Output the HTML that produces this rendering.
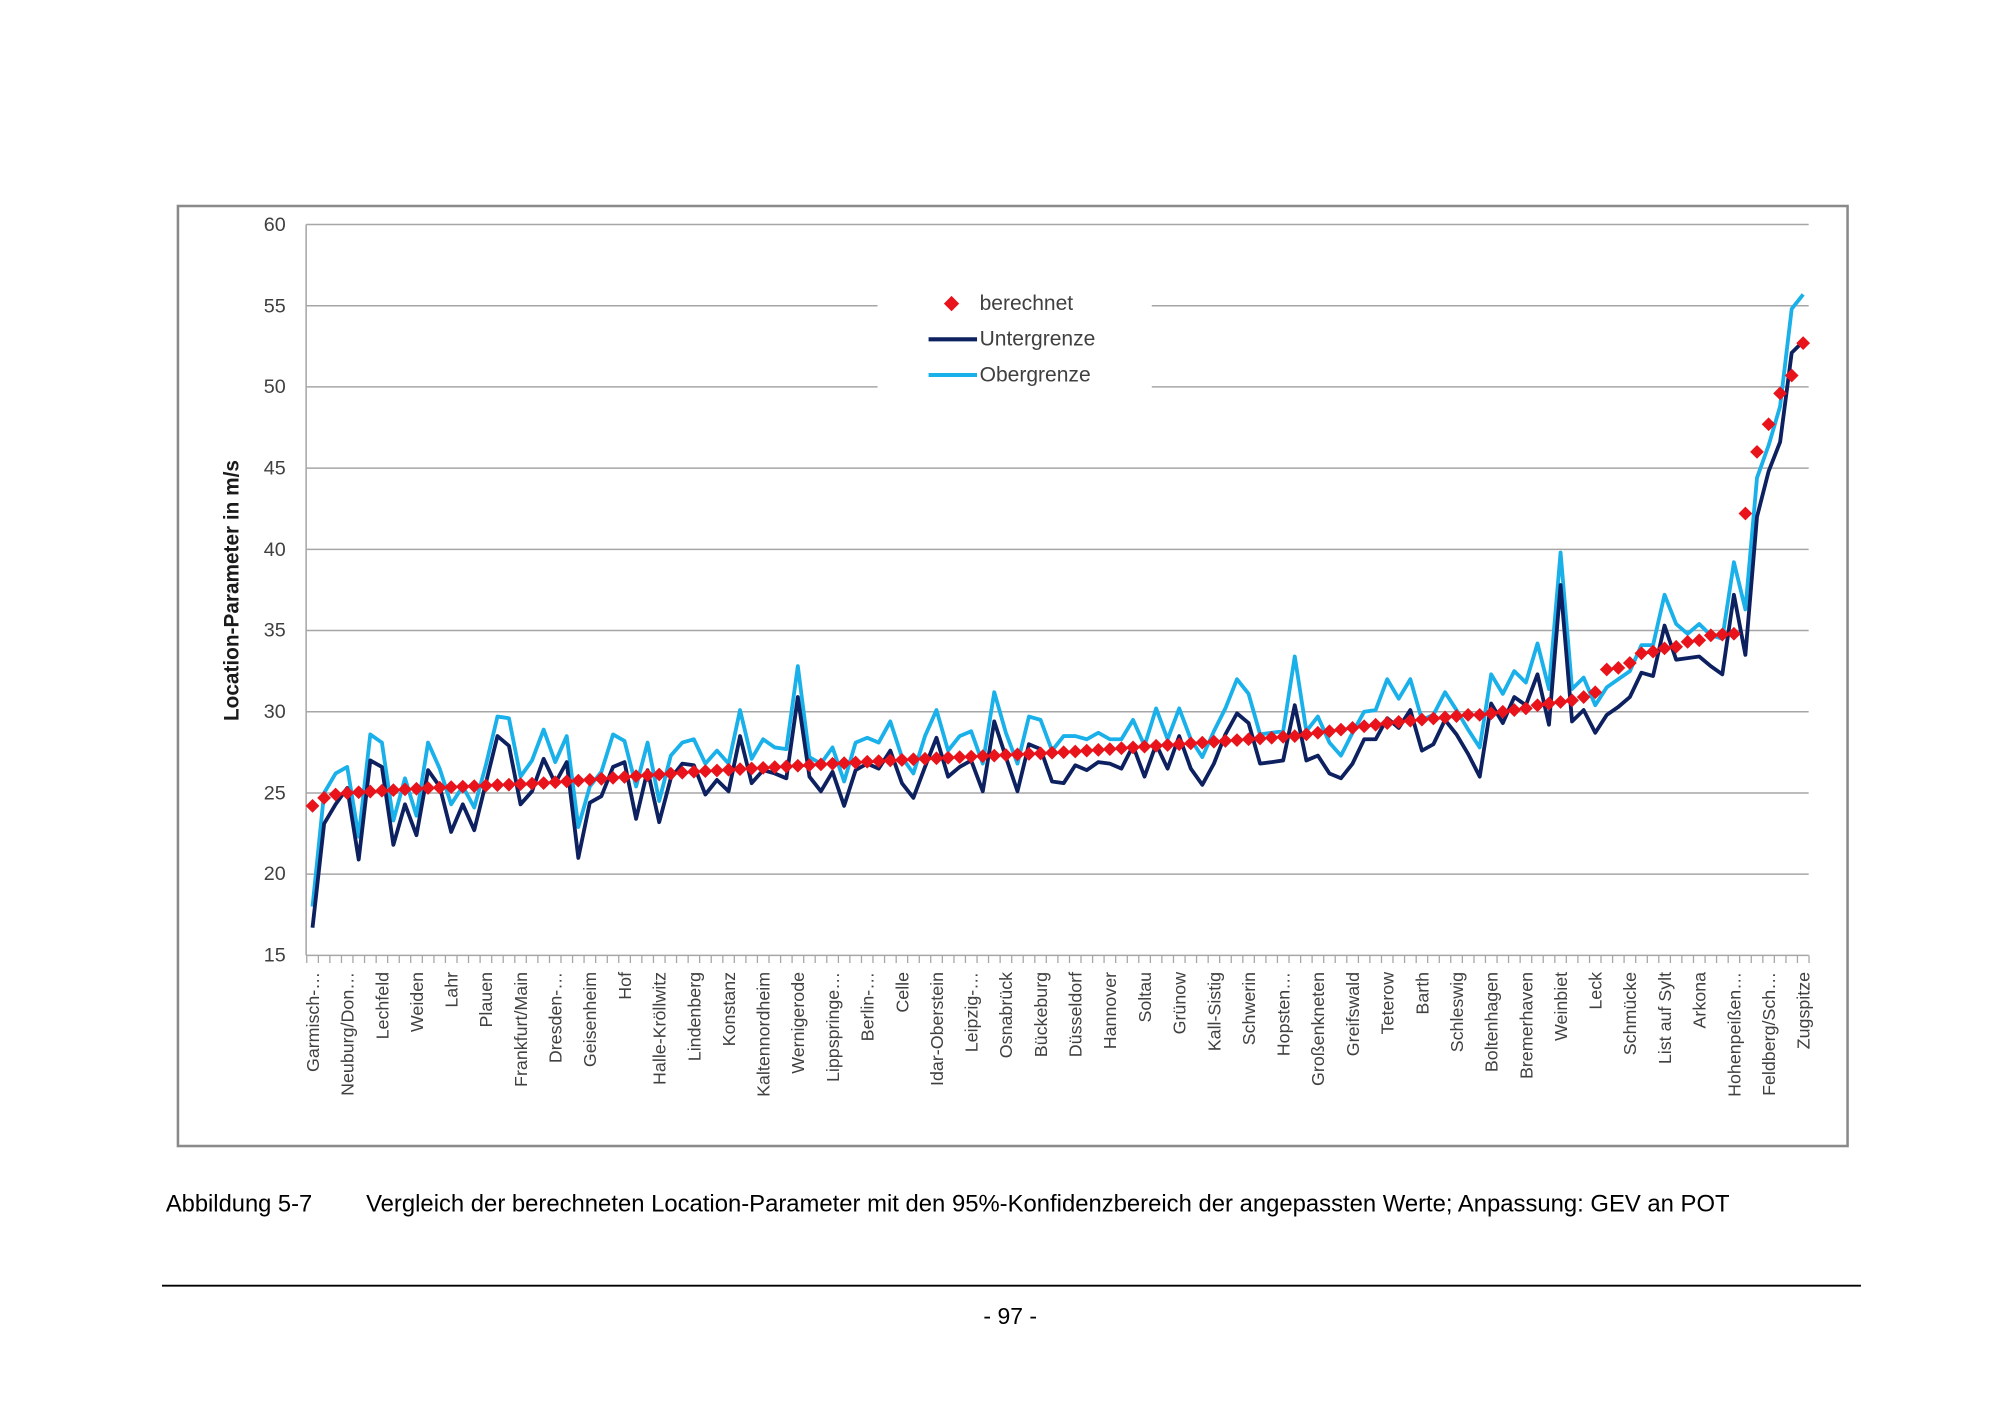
<!DOCTYPE html>
<html><head><meta charset="utf-8"><style>
html,body{margin:0;padding:0;background:#fff;}
svg{display:block;}
text{font-family:"Liberation Sans",sans-serif;}
</style></head><body>
<svg id="s" width="2000" height="1414" viewBox="0 0 1568 1108.6" xmlns="http://www.w3.org/2000/svg">
<rect x="0" y="0" width="1568" height="1109" fill="#fff"/>
<rect x="139.5" y="161.5" width="1309" height="737" fill="#fff" stroke="#8a8a8a" stroke-width="2"/>
<g id="grid" stroke="#a6a6a6" stroke-width="1.2">
<line x1="240" y1="176" x2="1418" y2="176"/>
<line x1="240" y1="239.7" x2="1418" y2="239.7"/>
<line x1="240" y1="303.3" x2="1418" y2="303.3"/>
<line x1="240" y1="367" x2="1418" y2="367"/>
<line x1="240" y1="430.7" x2="1418" y2="430.7"/>
<line x1="240" y1="494.3" x2="1418" y2="494.3"/>
<line x1="240" y1="558" x2="1418" y2="558"/>
<line x1="240" y1="621.7" x2="1418" y2="621.7"/>
<line x1="240" y1="685.3" x2="1418" y2="685.3"/>
<line x1="240" y1="749" x2="1418" y2="749"/>
<line x1="240" y1="176" x2="240" y2="749"/>
</g>
<g id="ticks" stroke="#a6a6a6" stroke-width="1"></g>
<g font-size="15.5" fill="#404040" text-anchor="end">
<text x="224" y="181">60</text><text x="224" y="245">55</text><text x="224" y="308">50</text>
<text x="224" y="372">45</text><text x="224" y="436">40</text><text x="224" y="499">35</text>
<text x="224" y="563">30</text><text x="224" y="627">25</text><text x="224" y="690">20</text>
<text x="224" y="754">15</text>
</g>
<text transform="translate(187,463) rotate(-90)" text-anchor="middle" font-size="16.3" font-weight="bold" fill="#1a1a1a">Location-Parameter in m/s</text>
<g id="series"></g>
<rect x="688" y="226" width="215" height="80" fill="#fff"/>
<path d="M746 232 L752 238 L746 244 L740 238Z" fill="#e8131b"/>
<text x="768" y="243" font-size="16.5" fill="#404040">berechnet</text>
<line x1="728" y1="266" x2="766" y2="266" stroke="#0d2060" stroke-width="3.2"/>
<text x="768" y="271" font-size="16.5" fill="#404040">Untergrenze</text>
<line x1="728" y1="294" x2="766" y2="294" stroke="#1ab0ea" stroke-width="3.2"/>
<text x="768" y="299" font-size="16.5" fill="#404040">Obergrenze</text>
<g font-size="14" fill="#404040" text-anchor="end">
<text transform="translate(250,762) rotate(-90)">Garmisch-…</text>
<text transform="translate(277.2,762) rotate(-90)">Neuburg/Don…</text>
<text transform="translate(304.4,762) rotate(-90)">Lechfeld</text>
<text transform="translate(331.5,762) rotate(-90)">Weiden</text>
<text transform="translate(358.7,762) rotate(-90)">Lahr</text>
<text transform="translate(385.9,762) rotate(-90)">Plauen</text>
<text transform="translate(413.1,762) rotate(-90)">Frankfurt/Main</text>
<text transform="translate(440.3,762) rotate(-90)">Dresden-…</text>
<text transform="translate(467.4,762) rotate(-90)">Geisenheim</text>
<text transform="translate(494.6,762) rotate(-90)">Hof</text>
<text transform="translate(521.8,762) rotate(-90)">Halle-Kröllwitz</text>
<text transform="translate(549,762) rotate(-90)">Lindenberg</text>
<text transform="translate(576.2,762) rotate(-90)">Konstanz</text>
<text transform="translate(603.3,762) rotate(-90)">Kaltennordheim</text>
<text transform="translate(630.5,762) rotate(-90)">Wernigerode</text>
<text transform="translate(657.7,762) rotate(-90)">Lippspringe…</text>
<text transform="translate(684.9,762) rotate(-90)">Berlin-…</text>
<text transform="translate(712.1,762) rotate(-90)">Celle</text>
<text transform="translate(739.2,762) rotate(-90)">Idar-Oberstein</text>
<text transform="translate(766.4,762) rotate(-90)">Leipzig-…</text>
<text transform="translate(793.6,762) rotate(-90)">Osnabrück</text>
<text transform="translate(820.8,762) rotate(-90)">Bückeburg</text>
<text transform="translate(848,762) rotate(-90)">Düsseldorf</text>
<text transform="translate(875.1,762) rotate(-90)">Hannover</text>
<text transform="translate(902.3,762) rotate(-90)">Soltau</text>
<text transform="translate(929.5,762) rotate(-90)">Grünow</text>
<text transform="translate(956.7,762) rotate(-90)">Kall-Sistig</text>
<text transform="translate(983.9,762) rotate(-90)">Schwerin</text>
<text transform="translate(1011,762) rotate(-90)">Hopsten…</text>
<text transform="translate(1038.2,762) rotate(-90)">Großenkneten</text>
<text transform="translate(1065.4,762) rotate(-90)">Greifswald</text>
<text transform="translate(1092.6,762) rotate(-90)">Teterow</text>
<text transform="translate(1119.8,762) rotate(-90)">Barth</text>
<text transform="translate(1146.9,762) rotate(-90)">Schleswig</text>
<text transform="translate(1174.1,762) rotate(-90)">Boltenhagen</text>
<text transform="translate(1201.3,762) rotate(-90)">Bremerhaven</text>
<text transform="translate(1228.5,762) rotate(-90)">Weinbiet</text>
<text transform="translate(1255.7,762) rotate(-90)">Leck</text>
<text transform="translate(1282.8,762) rotate(-90)">Schmücke</text>
<text transform="translate(1310,762) rotate(-90)">List auf Sylt</text>
<text transform="translate(1337.2,762) rotate(-90)">Arkona</text>
<text transform="translate(1364.4,762) rotate(-90)">Hohenpeißen…</text>
<text transform="translate(1391.6,762) rotate(-90)">Feldberg/Sch…</text>
<text transform="translate(1418.7,762) rotate(-90)">Zugspitze</text>
</g>
<text x="130" y="950" font-size="18.6" fill="#000">Abbildung 5-7</text>
<text x="287" y="950" font-size="18.6" fill="#000" textLength="1069" lengthAdjust="spacingAndGlyphs">Vergleich der berechneten Location-Parameter mit den 95%-Konfidenzbereich der angepassten Werte; Anpassung: GEV an POT</text>
<line x1="127" y1="1008" x2="1459" y2="1008" stroke="#000" stroke-width="1.5"/>
<text x="792" y="1038" font-size="18" fill="#000" text-anchor="middle">- 97 -</text>
</svg>
<script>
var up=[18.0,25.0,26.2,26.6,22.3,28.6,28.1,23.3,25.9,23.6,28.1,26.5,24.3,25.4,24.1,26.7,29.7,29.6,26.0,27.0,28.9,26.9,28.5,22.9,25.4,26.3,28.6,28.2,25.4,28.1,24.5,27.3,28.1,28.3,
26.8,27.6,26.8,30.1,27.1,28.3,27.8,27.7,32.8,27.2,26.8,27.8,25.7,28.1,28.4,28.1,29.4,27.2,26.2,28.5,30.1,27.6,28.5,28.8,26.8,31.2,28.7,26.8,29.7,29.5,27.6,28.5,
28.5,28.3,28.7,28.3,28.3,29.5,27.9,30.2,28.3,30.2,28.3,27.2,28.8,30.2,32.0,31.1,28.6,28.7,28.8,33.4,28.8,29.7,28.1,27.3,28.7,30.0,30.1,32.0,30.8,32.0,29.5,29.8,31.2,30.1,
28.9,27.8,32.3,31.1,32.5,31.8,34.2,31.4,39.8,31.4,32.1,30.4,31.5,32.0,32.5,34.1,34.1,37.2,35.4,34.8,35.4,34.7,34.5,39.2,36.3,44.4,46.4,48.8,54.8,55.7];
var lo=[16.7,23.1,24.3,25.3,20.9,27.0,26.6,21.8,24.3,22.4,26.4,25.4,22.6,24.3,22.7,25.6,28.5,27.9,24.3,25.1,27.1,25.6,26.9,21.0,24.4,24.8,26.6,26.9,23.4,26.4,23.2,25.9,26.8,26.7,
24.9,25.8,25.1,28.5,25.6,26.4,26.2,25.9,30.9,26.0,25.1,26.3,24.2,26.4,26.8,26.5,27.6,25.6,24.7,26.6,28.4,26.0,26.6,27.0,25.1,29.4,27.2,25.1,28.0,27.7,25.7,25.6,
26.7,26.4,26.9,26.8,26.5,27.9,26.0,28.0,26.5,28.5,26.5,25.5,26.8,28.6,29.9,29.3,26.8,26.9,27.0,30.4,27.0,27.3,26.2,25.9,26.8,28.3,28.3,29.6,29.0,30.1,27.6,28.0,29.5,28.6,
27.4,26.0,30.5,29.3,30.9,30.4,32.3,29.2,37.8,29.4,30.1,28.7,29.8,30.3,30.9,32.4,32.2,35.3,33.2,33.3,33.4,32.8,32.3,37.2,33.5,42.0,44.8,46.6,52.1,52.8];
var kp=[[0,24.2],[1,24.7],[2,24.9],[3,25.0],[10,25.3],[20,25.6],[33,26.3],[50,27.0],[65,27.5],[85,28.5],[93,29.3],[100,29.8],[101,29.8],[102,29.9],[103,30.0],[104,30.1],[105,30.2],[106,30.4],[107,30.5],[108,30.6],[109,30.7],[110,30.9],[111,31.2],
[112,32.6],[113,32.7],[114,33.0],[115,33.6],[116,33.7],[117,33.9],[118,34.0],[119,34.3],[120,34.4],[121,34.7],[122,34.75],[123,34.8],[124,42.2],[125,46.0],[126,47.7],[127,49.6],[128,50.7],[129,52.7]];
var d=[];for(var j=0;j<kp.length-1;j++){var a=kp[j],b=kp[j+1];for(var i=a[0];i<b[0];i++){d[i]=a[1]+(b[1]-a[1])*(i-a[0])/(b[0]-a[0]);}}d[129]=52.7;
function X(i){return 245+9.06*i;}function Y(v){return 176+(60-v)*12.733;}
var NS="http://www.w3.org/2000/svg",g=document.getElementById('series');
function pl(arr,c){var p=document.createElementNS(NS,'polyline');p.setAttribute('points',arr.map(function(v,i){return X(i).toFixed(1)+','+Y(v).toFixed(1)}).join(' '));p.setAttribute('fill','none');p.setAttribute('stroke',c);p.setAttribute('stroke-width','3');p.setAttribute('stroke-linejoin','round');g.appendChild(p);}
pl(up,'#1ab0ea');pl(lo,'#0d2060');
var s='';for(var i=0;i<130;i++){var x=X(i),y=Y(d[i]);s+='M'+x.toFixed(1)+' '+(y-5.4).toFixed(1)+'L'+(x+5.4).toFixed(1)+' '+y.toFixed(1)+'L'+x.toFixed(1)+' '+(y+5.4).toFixed(1)+'L'+(x-5.4).toFixed(1)+' '+y.toFixed(1)+'Z';}
var pd=document.createElementNS(NS,'path');pd.setAttribute('d',s);pd.setAttribute('fill','#e8131b');g.appendChild(pd);
var t=document.getElementById('ticks');var ts='';for(var i=0;i<=130;i++){var x=240.5+9.06*i;ts+='M'+x.toFixed(1)+' 749L'+x.toFixed(1)+' 755';}
var tp=document.createElementNS(NS,'path');tp.setAttribute('d',ts);t.appendChild(tp);
</script>
</body></html>
